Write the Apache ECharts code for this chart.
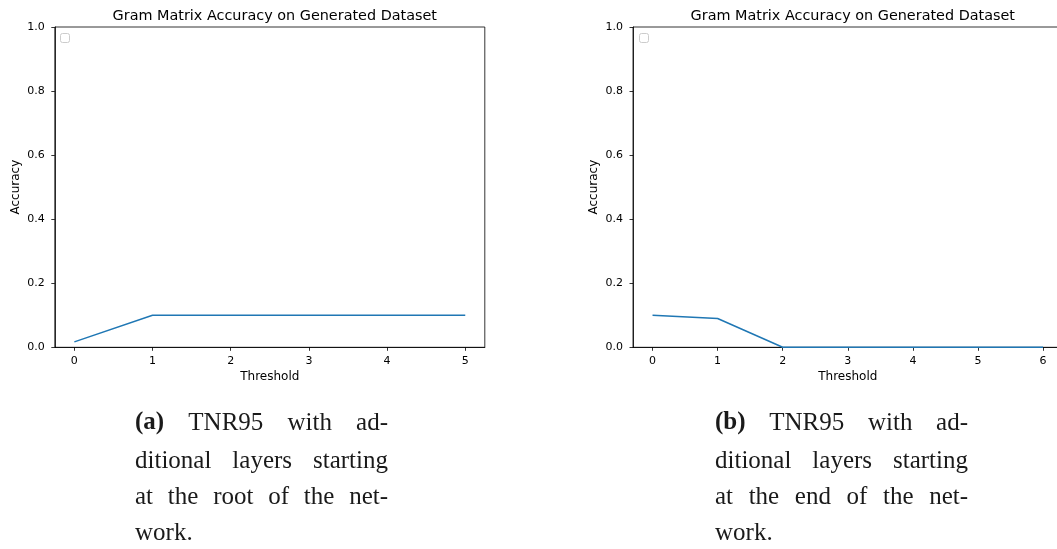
<!DOCTYPE html>
<html>
<head>
<meta charset="utf-8">
<script src="https://cdn.jsdelivr.net/npm/echarts@6/dist/echarts.min.js"></script>
<style>
html,body{margin:0;padding:0;background:#fff;overflow:hidden;width:1057px;height:549px;}
#c{width:1070px;height:549px;}
</style>
</head>
<body>
<div id="c"></div>
<script>
// ---- data ----
const titleText = "Gram Matrix Accuracy on Generated Dataset";
const xNameText = "Threshold";
const yNameText = "Accuracy";
const thresholdsA = [0, 1, 2, 3, 4, 5];
const accuracyA = [0.017, 0.1, 0.1, 0.1, 0.1, 0.1];
const thresholdsB = [0, 1, 2, 3, 4, 5, 6];
const accuracyB = [0.1, 0.09, 0, 0, 0, 0, 0];
const yTicks = [0, 0.2, 0.4, 0.6, 0.8, 1.0];
const captionA = [["(a)", "TNR95 with ad-"], [null, "ditional layers starting"], [null, "at the root of the net-"], [null, "work."]];
const captionB = [["(b)", "TNR95 with ad-"], [null, "ditional layers starting"], [null, "at the end of the net-"], [null, "work."]];

const chart = echarts.init(document.getElementById('c'));
const FONT = 'DejaVu Sans';
const grids = [
  {left: 54.8, top: 27, width: 430, height: 320.3},
  {left: 633, top: 27, width: 429.6, height: 320.3}
];
function xAxisFor(i, ticks) {
  const n = ticks[ticks.length - 1];
  const pad = n * 0.05;
  return {
    type: 'value', gridIndex: i, min: -pad, max: n + pad,
    name: xNameText, nameLocation: 'middle', nameGap: 22,
    nameTextStyle: {fontFamily: FONT, fontSize: 12, color: '#000'},
    axisLine: {show: true, onZero: false, lineStyle: {color: '#000', width: 0.8}},
    axisTick: {show: true, inside: false, length: 3.5, lineStyle: {color: '#000', width: 0.8}, customValues: ticks},
    axisLabel: {fontFamily: FONT, fontSize: 11, color: '#000', margin: 8, customValues: ticks, formatter: v => String(v)},
    splitLine: {show: false}
  };
}
function yAxisFor(i) {
  return {
    type: 'value', gridIndex: i, min: 0, max: 1, interval: 0.2,
    name: yNameText, nameLocation: 'middle', nameGap: 33,
    nameTextStyle: {fontFamily: FONT, fontSize: 12, color: '#000'},
    axisLine: {show: true, onZero: false, lineStyle: {color: '#000', width: 0.8}},
    axisTick: {show: true, inside: false, length: 3.5, lineStyle: {color: '#000', width: 0.8}},
    axisLabel: {fontFamily: FONT, fontSize: 11, color: '#000', margin: 10, customValues: yTicks, formatter: v => v.toFixed(1)},
    splitLine: {show: false}
  };
}

// caption layout with justification
const measureCtx = document.createElement('canvas').getContext('2d');
const CAP_SIZE = 25;
const CAP_FONT = 'Liberation Serif';
function textWidth(t, bold) {
  measureCtx.font = (bold ? 'bold ' : '') + CAP_SIZE + 'px "' + CAP_FONT + '"';
  return measureCtx.measureText(t).width;
}
function captionGraphics(lines, x0, x1, yMid) {
  const out = [];
  lines.forEach((ln, li) => {
    const words = [];
    if (ln[0]) words.push({t: ln[0], b: true});
    ln[1].split(' ').forEach(w => words.push({t: w, b: false}));
    const last = li === lines.length - 1;
    const total = words.reduce((s, w) => s + textWidth(w.t, w.b), 0);
    const gap = last ? textWidth(' ', false) : (x1 - x0 - total) / (words.length - 1);
    let x = x0;
    words.forEach(w => {
      out.push({type: 'text', x: x, y: yMid[li], style: {text: w.t, fontFamily: CAP_FONT, fontSize: CAP_SIZE, fontWeight: w.b ? 'bold' : 'normal', fill: '#1a1a1a', textVerticalAlign: 'middle'}});
      x += textWidth(w.t, w.b) + gap;
    });
  });
  return out;
}
const capY = [423, 461, 497, 533];

const graphics = [
  {type: 'rect', shape: {x: 60.5, y: 33.5, width: 9, height: 9, r: 2}, style: {fill: '#fff', stroke: '#ccc', lineWidth: 1}},
  {type: 'rect', shape: {x: 639.5, y: 33.5, width: 9, height: 9, r: 2}, style: {fill: '#fff', stroke: '#ccc', lineWidth: 1}}
].concat(captionGraphics(captionA, 135, 388, capY)).concat(captionGraphics(captionB, 715, 968, capY));

chart.setOption({
  animation: false,
  backgroundColor: '#fff',
  title: [
    {text: titleText, left: grids[0].left + grids[0].width / 2, top: 4, textAlign: 'center', textStyle: {fontFamily: FONT, fontSize: 14.4, fontWeight: 'normal', color: '#000'}},
    {text: titleText, left: grids[1].left + grids[1].width / 2, top: 4, textAlign: 'center', textStyle: {fontFamily: FONT, fontSize: 14.4, fontWeight: 'normal', color: '#000'}}
  ],
  grid: grids.map(g => Object.assign({show: true, borderColor: '#000', borderWidth: 0.8, backgroundColor: 'transparent'}, g)),
  xAxis: [xAxisFor(0, thresholdsA), xAxisFor(1, thresholdsB)],
  yAxis: [yAxisFor(0), yAxisFor(1)],
  series: [
    {type: 'line', xAxisIndex: 0, yAxisIndex: 0, data: thresholdsA.map((x, i) => [x, accuracyA[i]]), showSymbol: false, lineStyle: {color: '#1f77b4', width: 1.5}},
    {type: 'line', xAxisIndex: 1, yAxisIndex: 1, data: thresholdsB.map((x, i) => [x, accuracyB[i]]), showSymbol: false, lineStyle: {color: '#1f77b4', width: 1.5}}
  ],
  graphic: graphics
});
</script>
</body>
</html>
